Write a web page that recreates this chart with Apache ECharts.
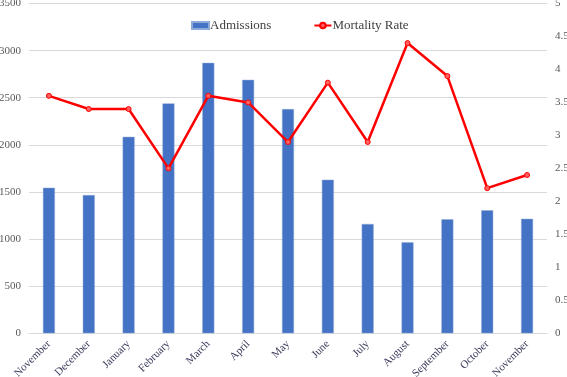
<!DOCTYPE html>
<html>
<head>
<meta charset="utf-8">
<script src="https://cdn.jsdelivr.net/npm/echarts@6/dist/echarts.min.js"></script>
<style>html,body{margin:0;padding:0;background:#fff}#chart{width:567px;height:377px}</style>
</head>
<body>
<div id="chart"></div>
<script>
var months = ['November', 'December', 'January', 'February', 'March', 'April', 'May', 'June', 'July', 'August', 'September', 'October', 'November'];
var admissions = [1545, 1467, 2085, 2440, 2870, 2690, 2380, 1630, 1160, 965, 1210, 1305, 1215];
var mortality = [3.6, 3.4, 3.4, 2.5, 3.6, 3.5, 2.9, 3.8, 2.9, 4.4, 3.9, 2.2, 2.4];

var chart = echarts.init(document.getElementById('chart'));
var font = '"Liberation Serif", "DejaVu Serif", serif';

var option = {
	animation: false,
	textStyle: { fontFamily: font },
	legend: {
		top: 14,
		left: 186,
		itemGap: 42,
		itemWidth: 17,
		itemHeight: 7,
		textStyle: { fontFamily: font, fontSize: 13, color: '#404040', padding: [0, 0, 0, -4] },
		data: [
			{ name: 'Admissions', icon: 'rect' },
			{ name: 'Mortality Rate' }
		]
	},
	grid: { left: 29, right: 20, top: 3.5, bottom: 43.7, containLabel: false, outerBoundsMode: 'none' },
	xAxis: {
		type: 'category',
		data: months,
		axisTick: { show: false },
		axisLine: { lineStyle: { color: '#d9d9d9' } },
		axisLabel: { rotate: 45, interval: 0, fontSize: 11, color: '#3a3a5c', fontFamily: font, margin: 9 }
	},
	yAxis: [
		{
			type: 'value', min: 0, max: 3500, interval: 500,
			axisLabel: { fontSize: 11, color: '#595959', fontFamily: font, margin: 8, formatter: function (v) { return String(v); } },
			splitLine: { lineStyle: { color: '#d9d9d9' } },
			axisLine: { show: false }, axisTick: { show: false }
		},
		{
			type: 'value', min: 0, max: 5, interval: 0.5,
			axisLabel: { fontSize: 11, color: '#595959', fontFamily: font, margin: 8 },
			splitLine: { show: false },
			axisLine: { show: false }, axisTick: { show: false }
		}
	],
	series: [
		{
			name: 'Admissions',
			type: 'bar',
			data: admissions,
			barWidth: 12,
			itemStyle: { color: '#4472C4', borderColor: '#8eaadb', borderWidth: 0.5 }
		},
		{
			name: 'Mortality Rate',
			type: 'line',
			yAxisIndex: 1,
			data: mortality,
			symbol: 'circle',
			symbolSize: 5,
			lineStyle: { color: '#ff0000', width: 2.5 },
			itemStyle: { color: '#ff6060', borderColor: '#ff0000', borderWidth: 1 }
		}
	]
};

chart.setOption(option);
</script>
</body>
</html>
